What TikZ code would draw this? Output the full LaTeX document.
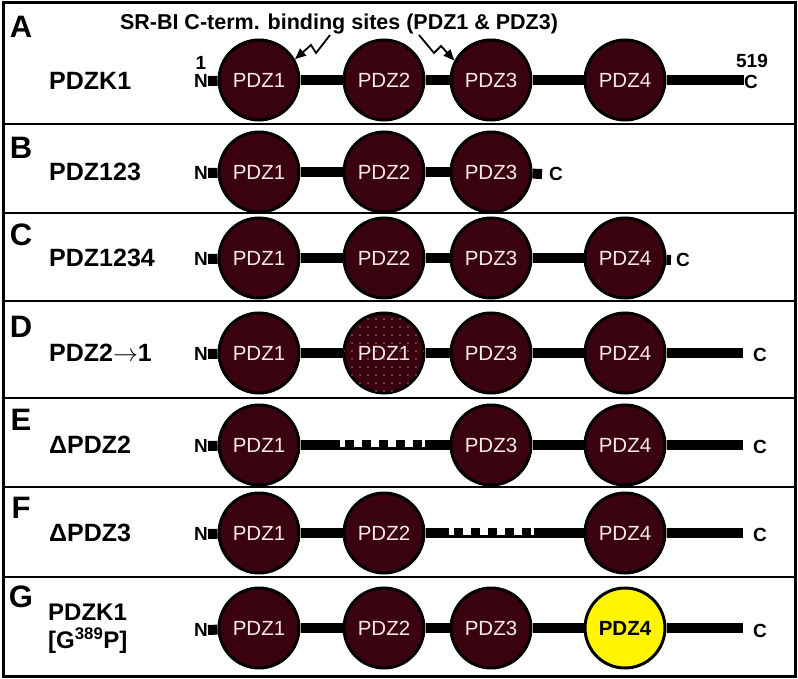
\documentclass[tikz,border=0pt]{standalone}
\usepackage{fontspec}
\setmainfont{Liberation Sans}
\usetikzlibrary{arrows.meta,patterns.meta}
\definecolor{pdzred}{RGB}{58,2,14}
\definecolor{pdztext}{RGB}{250,232,240}
\definecolor{pdzyellow}{RGB}{255,245,0}

\begin{document}
\begin{tikzpicture}[x=1pt, y=-1pt,
        pdz/.style={circle, draw=black, line width=3pt, fill=pdzred, minimum size=80pt, inner sep=0pt,
            text=pdztext, font={\fontsize{20.5}{20.5}\selectfont}},
        backbone/.style={line width=10pt},
        gapbox/.style={line width=10pt, dash pattern=on 8.5pt off 8.5pt, dash phase=12pt},
        gapline/.style={line width=3pt},
        panelletter/.style={font={\fontsize{31}{31}\selectfont\bfseries}},
        rowname/.style={anchor=west, inner sep=0pt, font={\fontsize{25}{25}\selectfont\bfseries}},
        term/.style={inner sep=0pt, font={\fontsize{19}{19}\selectfont\bfseries}},
        divider/.style={line width=2pt},
        hit/.style={line width=1.8pt, -{Triangle[length=11pt, width=9pt]}}]
    \useasboundingbox (0,0) rectangle (798,679);
    \draw[line width=3pt] (3,3) rectangle (795,676);
    \draw[divider] (3,124) -- (795,124);
    \draw[divider] (3,213) -- (795,213);
    \draw[divider] (3,301) -- (795,301);
    \draw[divider] (3,398) -- (795,398);
    \draw[divider] (3,487) -- (795,487);
    \draw[divider] (3,577) -- (795,577);

    % A: PDZK1
    \node[panelletter] (lA) at (21,27) {A};
    \node[rowname] (mA) at (49,81) {PDZK1};
    \node[font={\fontsize{21.5}{21.5}\selectfont\bfseries}] (title) at (339,24) {SR-BI C-term. binding sites (PDZ1 \& PDZ3)};
    \node[term] (oneA) at (201,63) {1};
    \node[term] (endA) at (752,61) {519};
    \node[term] (nA) at (201,81) {N};
    \node[term] (cA) at (751,82) {C};
    \coordinate (eA) at (744,80);
    \node[pdz] (p1A) at (259,80) {PDZ1};
    \node[pdz] (p2A) at (384,80) {PDZ2};
    \node[pdz] (p3A) at (491,80) {PDZ3};
    \node[pdz] (p4A) at (625,80) {PDZ4};
    \draw[backbone] (nA.east) -- (p1A);
    \draw[backbone] (p1A) -- (p2A);
    \draw[backbone] (p2A) -- (p3A);
    \draw[backbone] (p3A) -- (p4A);
    \draw[backbone] (p4A) -- (eA);
    \coordinate (s1) at (330,35);
    \coordinate (s3) at (419,35);
    \draw[hit] (s1) -- (316,53) -- (311,45) -- (p1A.30);
    \draw[hit] (s3) -- (434,53) -- (441,46) -- (p3A.152);

    % B: PDZ123
    \node[panelletter] (lB) at (21,148) {B};
    \node[rowname] (mB) at (49,172) {PDZ123};
    \node[term] (nB) at (201,173) {N};
    \node[term] (cB) at (556,174) {C};
    \node[pdz] (p1B) at (259,172) {PDZ1};
    \node[pdz] (p2B) at (384,172) {PDZ2};
    \node[pdz] (p3B) at (491,172) {PDZ3};
    \draw[backbone] (nB.east) -- (p1B);
    \draw[backbone] (p1B) -- (p2B);
    \draw[backbone] (p2B) -- (p3B);
    \draw[backbone] (p3B) -- ([xshift=-7pt]cB.west);

    % C: PDZ1234
    \node[panelletter] (lC) at (21,235) {C};
    \node[rowname] (mC) at (49,258) {PDZ1234};
    \node[term] (nC) at (201,259) {N};
    \node[term] (cC) at (683,260) {C};
    \node[pdz] (p1C) at (259,258) {PDZ1};
    \node[pdz] (p2C) at (384,258) {PDZ2};
    \node[pdz] (p3C) at (491,258) {PDZ3};
    \node[pdz] (p4C) at (625,258) {PDZ4};
    \draw[backbone] (nC.east) -- (p1C);
    \draw[backbone] (p1C) -- (p2C);
    \draw[backbone] (p2C) -- (p3C);
    \draw[backbone] (p3C) -- (p4C);
    \draw[backbone] (p4C) -- ([xshift=-5pt]cC.west);

    % D: PDZ2->1
    \node[panelletter] (lD) at (21,327) {D};
    \node[rowname] (mD) at (49,353) {PDZ2$\rightarrow$1};
    \node[term] (nD) at (201,354) {N};
    \node[term] (cD) at (760,355) {C};
    \coordinate (eD) at (743,353);
    \node[pdz] (p1D) at (259,353) {PDZ1};
    \node[pdz, postaction={pattern={Dots[distance=8pt, radius=0.6pt]}, pattern color=white}] (p2D) at (384,353) {PDZ1};
    \node[pdz] (p3D) at (491,353) {PDZ3};
    \node[pdz] (p4D) at (625,353) {PDZ4};
    \draw[backbone] (nD.east) -- (p1D);
    \draw[backbone] (p1D) -- (p2D);
    \draw[backbone] (p2D) -- (p3D);
    \draw[backbone] (p3D) -- (p4D);
    \draw[backbone] (p4D) -- (eD);

    % E: delta PDZ2
    \node[panelletter] (lE) at (21,420) {E};
    \node[rowname] (mE) at (49,445) {ΔPDZ2};
    \node[term] (nE) at (201,446) {N};
    \node[term] (cE) at (760,447) {C};
    \coordinate (eE) at (743,445);
    \coordinate (g1E) at (340,445);
    \coordinate (g2E) at (425,445);
    \node[pdz] (p1E) at (259,445) {PDZ1};
    \node[pdz] (p3E) at (491,445) {PDZ3};
    \node[pdz] (p4E) at (625,445) {PDZ4};
    \draw[backbone] (nE.east) -- (p1E);
    \draw[backbone] (p1E) -- (g1E);
    \draw[gapbox] (g1E) -- (g2E);
    \draw[gapline] ([yshift=-3.5pt]g1E) -- ([yshift=-3.5pt]g2E);
    \draw[backbone] (g2E) -- (p3E);
    \draw[backbone] (p3E) -- (p4E);
    \draw[backbone] (p4E) -- (eE);

    % F: delta PDZ3
    \node[panelletter] (lF) at (21,508) {F};
    \node[rowname] (mF) at (49,533) {ΔPDZ3};
    \node[term] (nF) at (201,534) {N};
    \node[term] (cF) at (760,535) {C};
    \coordinate (eF) at (743,533);
    \coordinate (g1F) at (449,533);
    \coordinate (g2F) at (534,533);
    \node[pdz] (p1F) at (259,533) {PDZ1};
    \node[pdz] (p2F) at (384,533) {PDZ2};
    \node[pdz] (p4F) at (625,533) {PDZ4};
    \draw[backbone] (nF.east) -- (p1F);
    \draw[backbone] (p1F) -- (p2F);
    \draw[backbone] (p2F) -- (g1F);
    \draw[gapbox] (g1F) -- (g2F);
    \draw[gapline] ([yshift=-3.5pt]g1F) -- ([yshift=-3.5pt]g2F);
    \draw[backbone] (g2F) -- (p4F);
    \draw[backbone] (p4F) -- (eF);

    % G: PDZK1 [G389P]
    \node[panelletter] (lG) at (21,597) {G};
    \node[rowname, align=left, font={\fontsize{24}{28}\selectfont\bfseries}] (mG) at (48,629) {PDZK1\\{}[G\textsuperscript{389}P]};
    \node[term] (nG) at (201,630) {N};
    \node[term] (cG) at (760,631) {C};
    \coordinate (eG) at (743,628);
    \node[pdz] (p1G) at (259,628) {PDZ1};
    \node[pdz] (p2G) at (384,628) {PDZ2};
    \node[pdz] (p3G) at (491,628) {PDZ3};
    \node[pdz, fill=pdzyellow, text=black, font={\fontsize{20.5}{20.5}\selectfont\bfseries}] (p4G) at (625,628) {PDZ4};
    \draw[backbone] (nG.east) -- (p1G);
    \draw[backbone] (p1G) -- (p2G);
    \draw[backbone] (p2G) -- (p3G);
    \draw[backbone] (p3G) -- (p4G);
    \draw[backbone] (p4G) -- (eG);
\end{tikzpicture}
\end{document}
